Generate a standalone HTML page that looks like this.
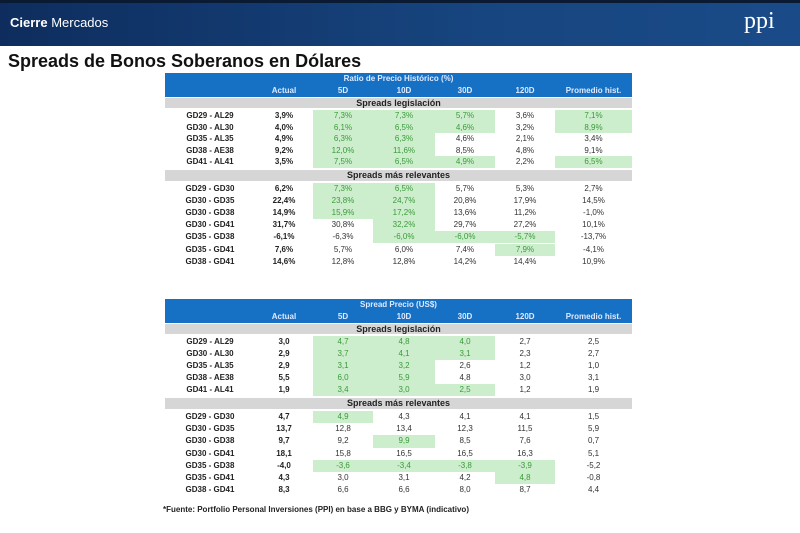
<!DOCTYPE html>
<html><head><meta charset="utf-8"><style>
body{margin:0;width:800px;height:533px;background:#fff;position:relative;overflow:hidden;font-family:"Liberation Sans",sans-serif}
.abs{position:absolute}
.hdr{left:0;top:0;width:800px;height:46px;background:linear-gradient(90deg,#0e2d5e,#17457f 60%,#1a4b88);border-top:3px solid #0a1a33;box-sizing:border-box}
.cell{position:absolute;font-size:8px;text-align:center;line-height:11px;color:#333}
.g{background:#cdeecd;color:#3a9a3a}
.b{font-weight:bold;color:#222}
.blue{background:#1670c4;color:#dfeaff;font-weight:bold;font-size:8px;text-align:center}
.gray{background:#d6d6d6;font-weight:bold;font-size:9px;text-align:center;color:#222}
</style></head><body>
<div class="abs hdr"></div>
<div class="abs" style="left:10px;top:15px;color:#fff;font-size:13px"><b>Cierre</b> Mercados</div>
<div class="abs" style="left:744px;top:8px;color:#fff;font-size:24px;font-family:'Liberation Serif',serif">ppi</div>
<div class="abs" style="left:8px;top:51px;font-size:18px;font-weight:bold;color:#111">Spreads de Bonos Soberanos en Dólares</div>
<div class="abs" style="left:163px;top:505px;font-size:8px;font-weight:bold;color:#222">*Fuente: Portfolio Personal Inversiones (PPI) en base a BBG y BYMA (indicativo)</div>
<div id="root"></div>
<script>
const colHeads=["Actual","5D","10D","30D","120D","Promedio hist."];
const pairsA=["GD29 - AL29","GD30 - AL30","GD35 - AL35","GD38 - AE38","GD41 - AL41"];
const pairsB=["GD29 - GD30","GD30 - GD35","GD30 - GD38","GD30 - GD41","GD35 - GD38","GD35 - GD41","GD38 - GD41"];
const t1A=[["3,9%","7,3%","7,3%","5,7%","3,6%","7,1%"],["4,0%","6,1%","6,5%","4,6%","3,2%","8,9%"],["4,9%","6,3%","6,3%","4,6%","2,1%","3,4%"],["9,2%","12,0%","11,6%","8,5%","4,8%","9,1%"],["3,5%","7,5%","6,5%","4,9%","2,2%","6,5%"]];
const t1B=[["6,2%","7,3%","6,5%","5,7%","5,3%","2,7%"],["22,4%","23,8%","24,7%","20,8%","17,9%","14,5%"],["14,9%","15,9%","17,2%","13,6%","11,2%","-1,0%"],["31,7%","30,8%","32,2%","29,7%","27,2%","10,1%"],["-6,1%","-6,3%","-6,0%","-6,0%","-5,7%","-13,7%"],["7,6%","5,7%","6,0%","7,4%","7,9%","-4,1%"],["14,6%","12,8%","12,8%","14,2%","14,4%","10,9%"]];
const g1A=[[1,1,1,0,1],[1,1,1,0,1],[1,1,0,0,0],[1,1,0,0,0],[1,1,1,0,1]];
const g1B=[[1,1,0,0,0],[1,1,0,0,0],[1,1,0,0,0],[0,1,0,0,0],[0,1,1,1,0],[0,0,0,1,0],[0,0,0,0,0]];
const t2A=[["3,0","4,7","4,8","4,0","2,7","2,5"],["2,9","3,7","4,1","3,1","2,3","2,7"],["2,9","3,1","3,2","2,6","1,2","1,0"],["5,5","6,0","5,9","4,8","3,0","3,1"],["1,9","3,4","3,0","2,5","1,2","1,9"]];
const t2B=[["4,7","4,9","4,3","4,1","4,1","1,5"],["13,7","12,8","13,4","12,3","11,5","5,9"],["9,7","9,2","9,9","8,5","7,6","0,7"],["18,1","15,8","16,5","16,5","16,3","5,1"],["-4,0","-3,6","-3,4","-3,8","-3,9","-5,2"],["4,3","3,0","3,1","4,2","4,8","-0,8"],["8,3","6,6","6,6","8,0","8,7","4,4"]];
const g2A=[[1,1,1,0,0],[1,1,1,0,0],[1,1,0,0,0],[1,1,0,0,0],[1,1,1,0,0]];
const g2B=[[1,0,0,0,0],[0,0,0,0,0],[0,1,0,0,0],[0,0,0,0,0],[1,1,1,1,0],[0,0,0,1,0],[0,0,0,0,0]];
const colX=[165,255,313,373,435,495,555,632];
const root=document.getElementById('root');
function mk(cls,x,y,w,h,txt){const d=document.createElement('div');d.className=cls;d.style.left=x+'px';d.style.top=y+'px';d.style.width=w+'px';d.style.height=h+'px';d.style.lineHeight=h+'px';d.textContent=txt;root.appendChild(d);return d;}
function table(title,top,A,gA,B,gB,stepA,stepB,tn){
  let e=mk('cell blue',165,top,467,24,'');
  
  
  e=mk('cell blue',165,top,467,12,title);
  
  
  for(let c=0;c<6;c++){e=mk('cell blue',colX[c+1],top+12,colX[c+2]-colX[c+1],12,colHeads[c]);
  
  }
  e=mk('cell gray',165,top+25,467,10,'Spreads legislación');
  
  
  let y=top+37;
  function rows(P,D,G,step){for(let r=0;r<P.length;r++){
    e=mk('cell b',165,y,90,step,P[r]);
    
    
    for(let c=0;c<6;c++){const gr=c>0&&G[r][c-1];
      e=mk('cell'+(c==0?' b':'')+(gr?' g':''),colX[c+1],y,colX[c+2]-colX[c+1],step,D[r][c]);
      
      }
    y+=step;}}
  rows(pairsA,A,gA,stepA);
  y+=2;
  e=mk('cell gray',165,y,467,11,'Spreads más relevantes');
  
  
  y+=13;
  rows(pairsB,B,gB,stepB);
}
table('Ratio de Precio Histórico (%)',73,t1A,g1A,t1B,g1B,11.5,12.2,'ratio-table');
table('Spread Precio (US$)',299,t2A,g2A,t2B,g2B,12,12.2,'spread-table');
</script>
</body></html>
